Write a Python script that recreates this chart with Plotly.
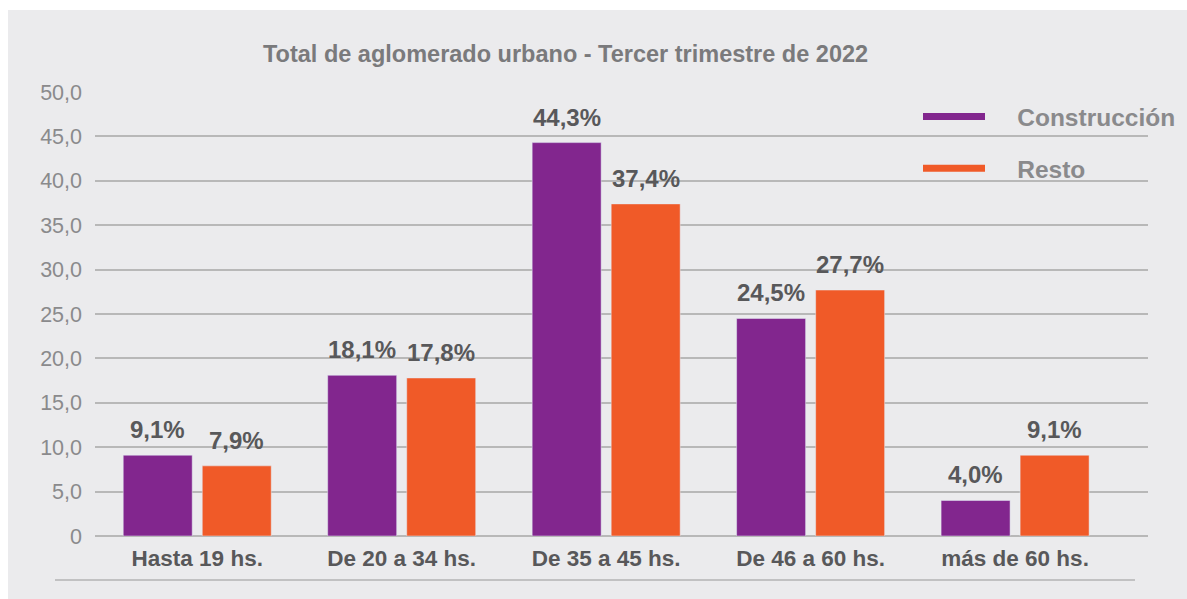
import plotly.graph_objects as go

categories = ["Hasta 19 hs.", "De 20 a 34 hs.", "De 35 a 45 hs.", "De 46 a 60 hs.", "más de 60 hs."]
construccion = [9.1, 18.1, 44.3, 24.5, 4.0]
resto = [7.9, 17.8, 37.4, 27.7, 9.1]
series_names = ["Construcción", "Resto"]
tick_vals = [0, 5, 10, 15, 20, 25, 30, 35, 40, 45, 50]
tick_text = ["0", "5,0", "10,0", "15,0", "20,0", "25,0", "30,0", "35,0", "40,0", "45,0", "50,0"]
title = "Total de aglomerado urbano - Tercer trimestre de 2022"

PURPLE = "#82268e"
ORANGE = "#f05a28"
BG = "#ebebed"
FONT = "Liberation Sans"

W, H = 1187, 599
L, R, T, B = 95, 39, 92, 63
pw, ph = W - L - R, H - T - B

def px_x(p):
    return (p - L) / pw

def px_y(p):
    return (H - B - p) / ph

fig = go.Figure()
fig.add_trace(go.Bar(x=categories, y=construccion, marker_color=PURPLE, showlegend=False, name=series_names[0]))
fig.add_trace(go.Bar(x=categories, y=resto, marker_color=ORANGE, showlegend=False, name=series_names[1]))

NB = "\u00a0" * 4
for nm, col, grp in [(series_names[0], PURPLE, "a"), (series_names[1], ORANGE, "b")]:
    fig.add_trace(go.Scatter(x=[None], y=[None], mode="lines", line=dict(color=col, width=7),
                             name=NB + "<b>" + nm + "</b>", legendgroup=grp, showlegend=True))

def fmt(v):
    return f"{v:.1f}".replace(".", ",") + "%"

annotations = []
for i, c in enumerate(categories):
    for vals, shift in [(construccion, -39.5), (resto, 39.5)]:
        annotations.append(dict(x=c, y=vals[i], xref="x", yref="y", text="<b>" + fmt(vals[i]) + "</b>",
                                showarrow=False, xshift=shift, yshift=10, yanchor="bottom",
                                font=dict(family=FONT, size=24, color="#58585a")))

annotations.append(dict(x=px_x(565), y=px_y(54), xref="paper", yref="paper", text="<b>" + title + "</b>",
                        showarrow=False, xanchor="center", yanchor="middle",
                        font=dict(family=FONT, size=23.5, color="#7a7a7c")))

shapes = [
    dict(type="rect", xref="paper", yref="paper", x0=px_x(-5), x1=px_x(1200), y0=px_y(10), y1=px_y(-5),
         fillcolor="white", line=dict(width=0), layer="above"),
    dict(type="rect", xref="paper", yref="paper", x0=px_x(-5), x1=px_x(8), y0=px_y(605), y1=px_y(-5),
         fillcolor="white", line=dict(width=0), layer="above"),
    dict(type="line", xref="paper", yref="paper", x0=px_x(55), x1=px_x(1135), y0=px_y(580), y1=px_y(580),
         line=dict(color="#b3b3b3", width=1.5)),
]

fig.update_layout(
    width=W, height=H,
    margin=dict(l=L, r=R, t=T, b=B, autoexpand=False),
    paper_bgcolor=BG, plot_bgcolor=BG,
    barmode="group", bargap=0.227, bargroupgap=0.127,
    annotations=annotations, shapes=shapes,
    font=dict(family=FONT),
    legend=dict(x=px_x(918), y=px_y(94), xanchor="left", yanchor="top",
                bgcolor="rgba(0,0,0,0)", itemwidth=62, tracegroupgap=17,
                font=dict(family=FONT, size=24.5, color="#8a8a8c")),
    xaxis=dict(range=[-0.5, 4.65], showgrid=False, zeroline=False, showline=False, ticks="",
               tickfont=dict(family=FONT, size=22.5, color="#58585a"), ticklabelstandoff=6,
               tickvals=categories, ticktext=["<b>" + c + "</b>" for c in categories]),
    yaxis=dict(range=[0, 50], tickvals=tick_vals, ticktext=tick_text, showgrid=True,
               gridcolor="#b8b8b8", gridwidth=1.5, zeroline=True, zerolinecolor="#b8b8b8", zerolinewidth=1.5,
               showline=False, ticks="", tickfont=dict(family=FONT, size=21.5, color="#8a8a8c"), ticklabelstandoff=12),
)

fig.write_html("out.html", config={"displayModeBar": False},
               post_script="document.body.style.margin='0';document.body.style.overflow='hidden';")
